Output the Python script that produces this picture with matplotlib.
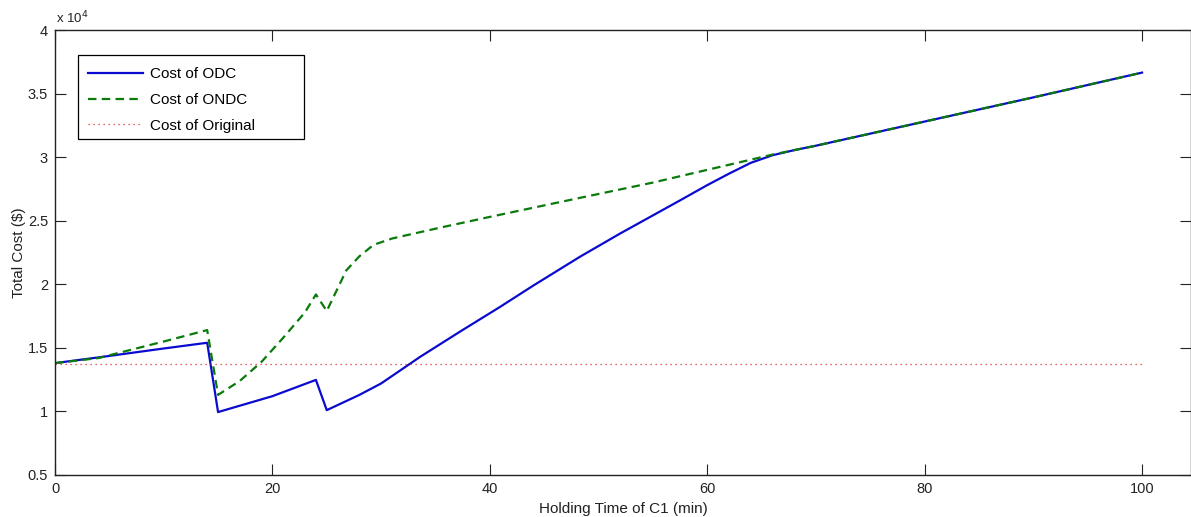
import matplotlib
matplotlib.use("Agg")
import matplotlib.pyplot as plt
from matplotlib.ticker import FuncFormatter, FixedLocator
from matplotlib.patches import Rectangle

plt.rcParams['font.family'] = ['Liberation Sans', 'DejaVu Sans']

# ---- data (Total cost in $) ----
odc_x = [0, 4, 10, 14, 15, 20, 24, 25, 28, 30, 33.6, 37.3, 40.9, 44, 48.3, 52, 57.5, 60, 62, 64, 66, 68, 70, 80, 90, 100]
odc_y = [13800, 14250, 14950, 15400, 9950, 11200, 12480, 10100, 11300, 12200, 14300, 16300, 18200, 19900, 22170, 24000, 26600, 27800, 28700, 29550, 30150, 30550, 30900, 32800, 34700, 36650]

ondc_x = [0, 4, 10, 14, 15, 17, 19, 21, 23, 24, 25, 26.8, 28, 29.3, 31, 35.4, 40, 48.3, 55, 63, 66, 70, 80, 90, 100]
ondc_y = [13800, 14200, 15500, 16400, 11300, 12400, 13900, 15800, 17800, 19200, 17900, 21100, 22200, 23100, 23600, 24450, 25300, 26800, 28000, 29600, 30200, 30900, 32800, 34700, 36650]

orig_x = [0, 100]
orig_y = [13740, 13740]

x_ticks = [0, 20, 40, 60, 80, 100]
y_ticks = [0.5, 1, 1.5, 2, 2.5, 3, 3.5, 4]
scale = 1e4

fig = plt.figure(figsize=(11.91, 5.17), dpi=100)
ax = fig.add_axes([55/1191, 42/517, 1136/1191, 445/517])

ax.plot(odc_x, [v/scale for v in odc_y], color='#0b0bd0', lw=1.6, label='Cost of ODC')
ax.plot(ondc_x, [v/scale for v in ondc_y], color='#0a7a0a', lw=1.6, linestyle=(0, (3.8, 2.4)), label='Cost of ONDC')
ax.plot(orig_x, [v/scale for v in orig_y], color='#e03030', lw=0.9, linestyle=(0, (1, 3)), label='Cost of Original')

ax.set_xlim(0, 104.5)
ax.set_ylim(0.5, 4)
ax.xaxis.set_major_locator(FixedLocator(x_ticks))
ax.yaxis.set_major_locator(FixedLocator(y_ticks))
ax.yaxis.set_major_formatter(FuncFormatter(lambda v, p: '%g' % v))
ax.xaxis.set_major_formatter(FuncFormatter(lambda v, p: '%g' % v))
ax.tick_params(direction='in', length=8, width=0.8, top=True, right=True,
               labelsize=10.5, colors='#222222', pad=5)
for s in ax.spines.values():
    s.set_linewidth(1.0)
    s.set_color('#222222')

ax.set_xlabel('Holding Time of C1 (min)', fontsize=11, color='#222222', labelpad=4)
ax.set_ylabel('Total Cost ($)', fontsize=11, color='#222222', labelpad=1)
ax.text(0.001, 1.008, r'x 10$^4$', transform=ax.transAxes, fontsize=9.5, color='#222222',
        ha='left', va='bottom')

# legend frame (MATLAB-style, with extra room on the right)
ax.add_patch(Rectangle((0.0202, 0.755), 0.199, 0.1888, transform=ax.transAxes,
                       fill=True, facecolor='white', edgecolor='black', lw=0.9, zorder=5))
leg = ax.legend(loc='upper left', bbox_to_anchor=(0.029, 0.917), fontsize=11, frameon=False,
                handlelength=3.6, borderpad=0, labelspacing=0.78, handletextpad=0.46,
                borderaxespad=0)
leg.set_zorder(6)

fig.savefig('out.png', dpi=100)
